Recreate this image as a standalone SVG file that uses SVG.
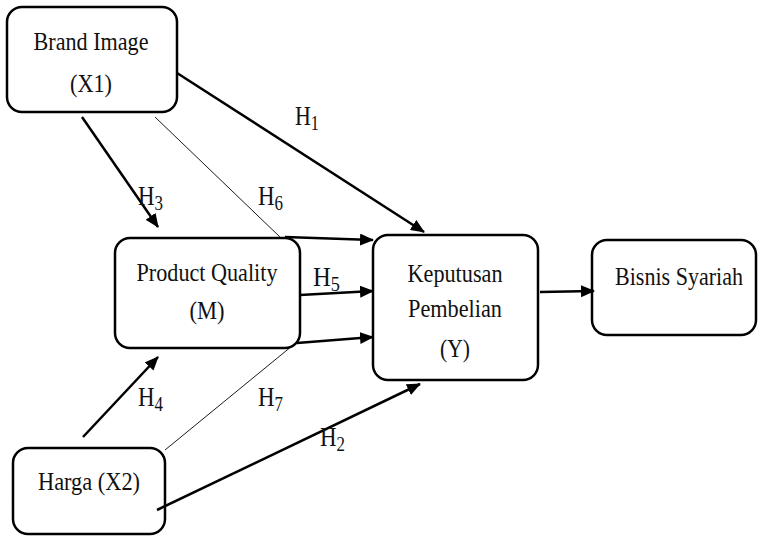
<svg xmlns="http://www.w3.org/2000/svg" width="758" height="536" viewBox="0 0 758 536">
<defs>
<style>
.box{fill:#fff;stroke:#000;stroke-width:2.5}
.t{font-family:"Liberation Serif","Times New Roman",serif;font-size:26px;fill:#111;text-anchor:middle}
.h{font-family:"Liberation Serif","Times New Roman",serif;font-size:27px;fill:#111}
.s{font-size:20px}
.thick{stroke:#000;stroke-width:2.5;fill:none}
.thin{stroke:#000;stroke-width:0.9;fill:none}
</style>
<marker id="ah" markerUnits="userSpaceOnUse" markerWidth="14" markerHeight="12" refX="13" refY="6" orient="auto" viewBox="0 0 14 12">
<path d="M0,0 L14,6 L0,12 z" fill="#000"/>
</marker>
</defs>
<rect width="758" height="536" fill="#fff"/>
<g id="brand-image">
<rect class="box" x="7" y="7" width="170" height="105" rx="15"/>
<text class="t" x="91" y="50" textLength="115" lengthAdjust="spacingAndGlyphs">Brand Image</text>
<text class="t" x="91" y="92" textLength="42" lengthAdjust="spacingAndGlyphs">(X1)</text>
</g>
<g id="product-quality">
<rect class="box" x="115" y="238" width="185" height="110" rx="15"/>
<text class="t" x="207" y="281" textLength="141" lengthAdjust="spacingAndGlyphs">Product Quality</text>
<text class="t" x="207" y="319" textLength="35" lengthAdjust="spacingAndGlyphs">(M)</text>
</g>
<g id="keputusan-pembelian">
<rect class="box" x="373" y="235" width="165" height="145" rx="15"/>
<text class="t" x="455" y="282" textLength="95" lengthAdjust="spacingAndGlyphs">Keputusan</text>
<text class="t" x="455" y="317" textLength="94" lengthAdjust="spacingAndGlyphs">Pembelian</text>
<text class="t" x="455" y="357" textLength="30" lengthAdjust="spacingAndGlyphs">(Y)</text>
</g>
<g id="bisnis-syariah">
<rect class="box" x="592" y="240" width="164" height="95" rx="15"/>
<text class="t" x="679" y="285" textLength="128" lengthAdjust="spacingAndGlyphs">Bisnis Syariah</text>
</g>
<g id="harga">
<rect class="box" x="13" y="448" width="152" height="86" rx="15"/>
<text class="t" x="89" y="490" textLength="102" lengthAdjust="spacingAndGlyphs">Harga (X2)</text>
</g>
<g id="connectors">
<line class="thick" x1="177" y1="73" x2="424" y2="232" marker-end="url(#ah)"/>
<line class="thin" x1="155" y1="117" x2="281" y2="238"/>
<line class="thick" x1="82" y1="117" x2="158" y2="227" marker-end="url(#ah)"/>
<line class="thick" x1="285" y1="237" x2="373" y2="240" marker-end="url(#ah)"/>
<line class="thick" x1="300" y1="295" x2="373" y2="291" marker-end="url(#ah)"/>
<line class="thick" x1="297" y1="343" x2="373" y2="337" marker-end="url(#ah)"/>
<line class="thick" x1="83" y1="437" x2="158" y2="357" marker-end="url(#ah)"/>
<line class="thin" x1="165" y1="450" x2="292" y2="346"/>
<line class="thick" x1="157" y1="510" x2="420" y2="384" marker-end="url(#ah)"/>
<line class="thick" x1="540" y1="292" x2="594" y2="291" marker-end="url(#ah)"/>
</g>
<g id="labels">
<text class="h" x="295" y="125" textLength="24" lengthAdjust="spacingAndGlyphs">H<tspan class="s" dy="5">1</tspan></text>
<text class="h" x="138" y="205" textLength="25" lengthAdjust="spacingAndGlyphs">H<tspan class="s" dy="5">3</tspan></text>
<text class="h" x="258" y="205" textLength="25" lengthAdjust="spacingAndGlyphs">H<tspan class="s" dy="5">6</tspan></text>
<text class="h" x="313" y="286" textLength="27" lengthAdjust="spacingAndGlyphs">H<tspan class="s" dy="5">5</tspan></text>
<text class="h" x="138" y="406" textLength="25" lengthAdjust="spacingAndGlyphs">H<tspan class="s" dy="5">4</tspan></text>
<text class="h" x="258" y="406" textLength="25" lengthAdjust="spacingAndGlyphs">H<tspan class="s" dy="5">7</tspan></text>
<text class="h" x="320" y="446" textLength="25" lengthAdjust="spacingAndGlyphs">H<tspan class="s" dy="5">2</tspan></text>
</g>
</svg>
